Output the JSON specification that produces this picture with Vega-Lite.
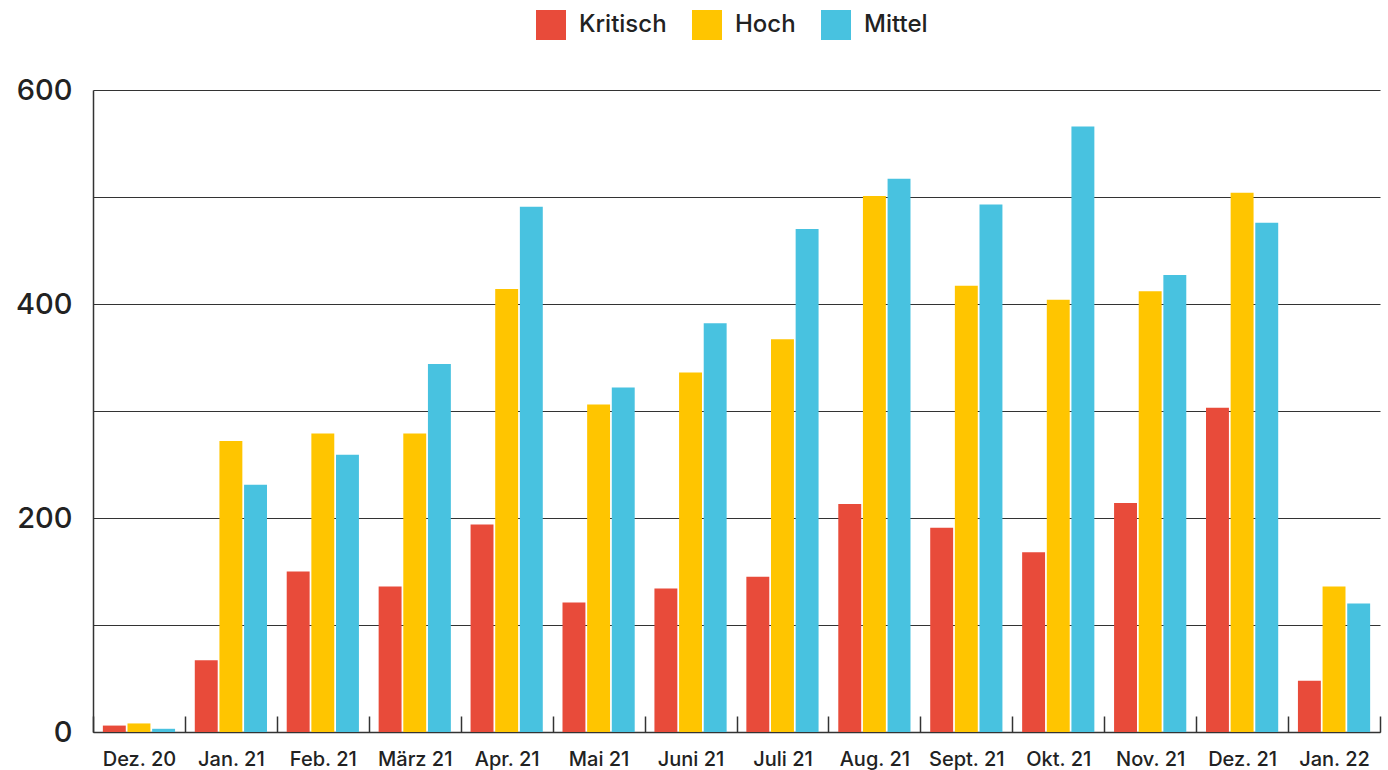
{
  "$schema": "https://vega.github.io/schema/vega-lite/v6.json",
  "width": 1287,
  "height": 642,
  "autosize": {"type": "none"},
  "padding": {"left": 93, "top": 90, "right": 8, "bottom": 38},
  "background": "#ffffff",
  "config": {
    "view": {"stroke": null},
    "font": "Inter"
  },
  "data": {
    "values": [
      {"monat": "Dez. 20", "stufe": "Kritisch", "anzahl": 6},
      {"monat": "Dez. 20", "stufe": "Hoch", "anzahl": 8},
      {"monat": "Dez. 20", "stufe": "Mittel", "anzahl": 3},
      {"monat": "Jan. 21", "stufe": "Kritisch", "anzahl": 67},
      {"monat": "Jan. 21", "stufe": "Hoch", "anzahl": 272},
      {"monat": "Jan. 21", "stufe": "Mittel", "anzahl": 231},
      {"monat": "Feb. 21", "stufe": "Kritisch", "anzahl": 150},
      {"monat": "Feb. 21", "stufe": "Hoch", "anzahl": 279},
      {"monat": "Feb. 21", "stufe": "Mittel", "anzahl": 259},
      {"monat": "März 21", "stufe": "Kritisch", "anzahl": 136},
      {"monat": "März 21", "stufe": "Hoch", "anzahl": 279},
      {"monat": "März 21", "stufe": "Mittel", "anzahl": 344},
      {"monat": "Apr. 21", "stufe": "Kritisch", "anzahl": 194},
      {"monat": "Apr. 21", "stufe": "Hoch", "anzahl": 414},
      {"monat": "Apr. 21", "stufe": "Mittel", "anzahl": 491},
      {"monat": "Mai 21", "stufe": "Kritisch", "anzahl": 121},
      {"monat": "Mai 21", "stufe": "Hoch", "anzahl": 306},
      {"monat": "Mai 21", "stufe": "Mittel", "anzahl": 322},
      {"monat": "Juni 21", "stufe": "Kritisch", "anzahl": 134},
      {"monat": "Juni 21", "stufe": "Hoch", "anzahl": 336},
      {"monat": "Juni 21", "stufe": "Mittel", "anzahl": 382},
      {"monat": "Juli 21", "stufe": "Kritisch", "anzahl": 145},
      {"monat": "Juli 21", "stufe": "Hoch", "anzahl": 367},
      {"monat": "Juli 21", "stufe": "Mittel", "anzahl": 470},
      {"monat": "Aug. 21", "stufe": "Kritisch", "anzahl": 213},
      {"monat": "Aug. 21", "stufe": "Hoch", "anzahl": 501},
      {"monat": "Aug. 21", "stufe": "Mittel", "anzahl": 517},
      {"monat": "Sept. 21", "stufe": "Kritisch", "anzahl": 191},
      {"monat": "Sept. 21", "stufe": "Hoch", "anzahl": 417},
      {"monat": "Sept. 21", "stufe": "Mittel", "anzahl": 493},
      {"monat": "Okt. 21", "stufe": "Kritisch", "anzahl": 168},
      {"monat": "Okt. 21", "stufe": "Hoch", "anzahl": 404},
      {"monat": "Okt. 21", "stufe": "Mittel", "anzahl": 566},
      {"monat": "Nov. 21", "stufe": "Kritisch", "anzahl": 214},
      {"monat": "Nov. 21", "stufe": "Hoch", "anzahl": 412},
      {"monat": "Nov. 21", "stufe": "Mittel", "anzahl": 427},
      {"monat": "Dez. 21", "stufe": "Kritisch", "anzahl": 303},
      {"monat": "Dez. 21", "stufe": "Hoch", "anzahl": 504},
      {"monat": "Dez. 21", "stufe": "Mittel", "anzahl": 476},
      {"monat": "Jan. 22", "stufe": "Kritisch", "anzahl": 48},
      {"monat": "Jan. 22", "stufe": "Hoch", "anzahl": 136},
      {"monat": "Jan. 22", "stufe": "Mittel", "anzahl": 120}
    ]
  },
  "mark": {"type": "bar"},
  "encoding": {
    "x": {
      "field": "monat",
      "type": "nominal",
      "sort": null,
      "scale": {"paddingInner": 0, "paddingOuter": 0},
      "axis": {
        "title": null,
        "labelAngle": 0,
        "labelFontSize": 20,
        "labelFontWeight": 500,
        "labelColor": "#222222",
        "labelPadding": 33,
        "tickBand": "extent",
        "tickSize": -16,
        "tickColor": "#333333",
        "tickWidth": 1.5,
        "domainColor": "#333333",
        "domainWidth": 1.5,
        "grid": false
      }
    },
    "xOffset": {
      "field": "stufe",
      "type": "nominal",
      "sort": ["Kritisch", "Hoch", "Mittel"],
      "scale": {"paddingInner": 0.07, "paddingOuter": 0.4}
    },
    "y": {
      "field": "anzahl",
      "type": "quantitative",
      "scale": {"domain": [0, 600], "nice": false},
      "axis": {
        "title": null,
        "values": [0, 100, 200, 300, 400, 500, 600],
        "labelExpr": "datum.value % 200 === 0 ? datum.label : ''",
        "labelFontSize": 29,
        "labelFontWeight": 500,
        "labelColor": "#222222",
        "labelPadding": 21,
        "ticks": false,
        "domainColor": "#333333",
        "domainWidth": 1.5,
        "gridColor": "#333333",
        "gridWidth": 1.2,
        "gridOpacity": 1
      }
    },
    "color": {
      "field": "stufe",
      "type": "nominal",
      "sort": ["Kritisch", "Hoch", "Mittel"],
      "scale": {
        "domain": ["Kritisch", "Hoch", "Mittel"],
        "range": ["#E84B3A", "#FFC500", "#48C2E0"]
      },
      "legend": {
        "title": null,
        "orient": "none",
        "direction": "horizontal",
        "legendX": 443,
        "legendY": -80,
        "symbolType": "square",
        "symbolSize": 900,
        "symbolStrokeWidth": 0,
        "symbolOpacity": 1,
        "labelFontSize": 24,
        "labelFontWeight": 500,
        "labelColor": "#222222",
        "labelOffset": 13,
        "columnPadding": 25
      }
    }
  }
}
